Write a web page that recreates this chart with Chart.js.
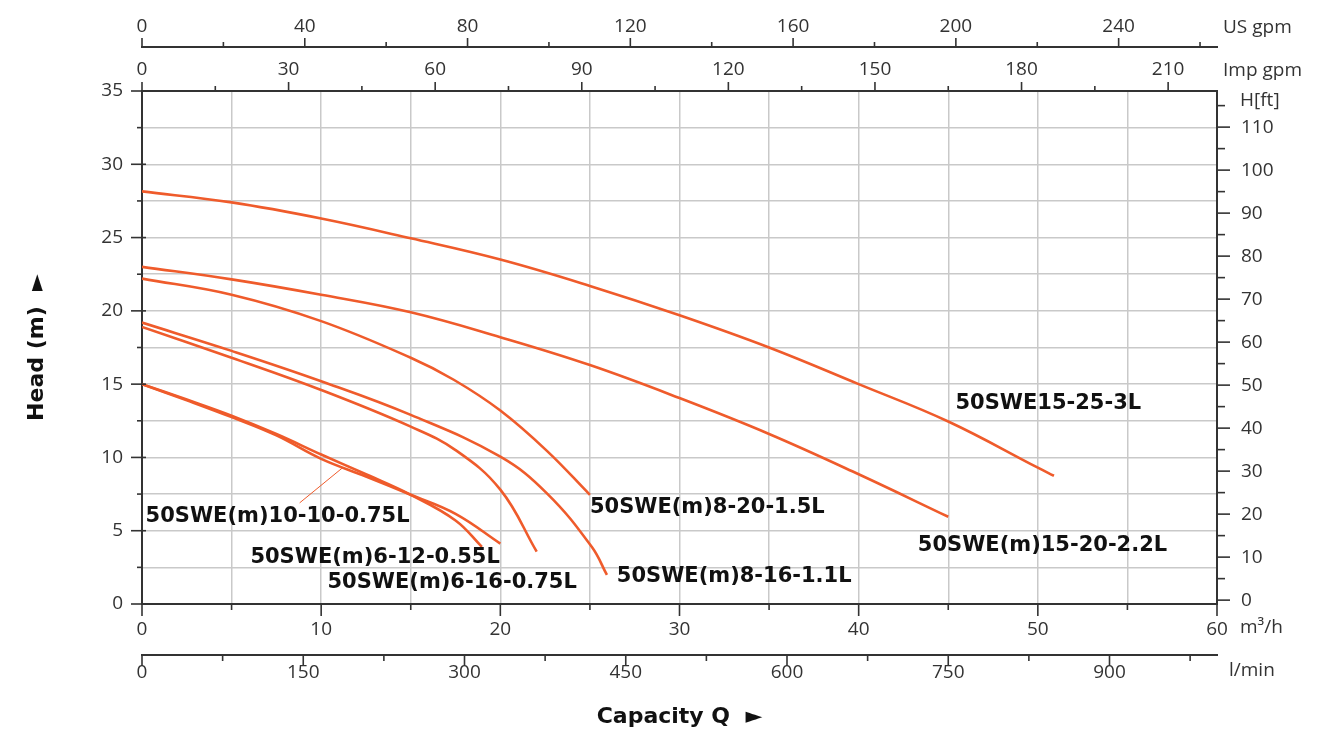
<!DOCTYPE html>
<html>
<head>
<meta charset="utf-8">
<script src="https://cdn.jsdelivr.net/npm/chart.js@4/dist/chart.umd.min.js"></script>
<style>
  html, body { margin: 0; padding: 0; background: #fff; }
  canvas { display: block; }
</style>
</head>
<body>
<canvas id="curves" width="1319" height="730"></canvas>
<script>
// Pump curves: capacity Q in m3/h, head H in m
const names = [
  "50SWE15-25-3L",
  "50SWE(m)15-20-2.2L",
  "50SWE(m)8-20-1.5L",
  "50SWE(m)8-16-1.1L",
  "50SWE(m)6-16-0.75L",
  "50SWE(m)6-12-0.55L",
  "50SWE(m)10-10-0.75L"
];

const q_15_25 = [0, 5, 10, 15, 20, 25, 30, 35, 40, 45, 50, 50.9];
const h_15_25 = [28.15, 27.4, 26.3, 24.95, 23.5, 21.7, 19.7, 17.5, 15.0, 12.45, 9.3, 8.75];

const q_15_20 = [0, 5, 10, 15, 20, 25, 30, 35, 40, 45];
const h_15_20 = [23.0, 22.15, 21.1, 19.9, 18.2, 16.3, 14.05, 11.6, 8.85, 5.95];

const q_8_20 = [0, 5, 10, 15, 17.4, 20, 22.6, 25];
const h_8_20 = [22.2, 21.1, 19.3, 16.8, 15.3, 13.2, 10.45, 7.45];

const q_8_16 = [0, 5, 10, 15, 20, 22.6, 25.1, 25.95];
const h_8_16 = [19.2, 17.27, 15.2, 12.9, 10.05, 7.55, 3.9, 1.98];

const q_6_16 = [0, 5, 10, 15, 17.5, 20, 22.03];
const h_6_16 = [18.9, 16.8, 14.6, 12.1, 10.5, 7.8, 3.57];

const q_6_12 = [0, 2.5, 5, 7.5, 10, 12.5, 15, 17.5, 20];
const h_6_12 = [15, 13.9, 12.75, 11.5, 9.9, 8.7, 7.45, 6.15, 4.12];

const q_10_10 = [0, 2.5, 5, 7.5, 10, 12.5, 15, 17.5, 18.97];
const h_10_10 = [15, 13.95, 12.85, 11.6, 10.2, 8.85, 7.45, 5.7, 3.9];

const curveQ = [q_15_25, q_15_20, q_8_20, q_8_16, q_6_16, q_6_12, q_10_10];
const curveH = [h_15_25, h_15_20, h_8_20, h_8_16, h_6_16, h_6_12, h_10_10];

// label anchors (m3/h, m) for the curve names
const labelAt = [
  [45.4, 13.65], [43.3, 4.0], [25.0, 6.55], [26.5, 1.85],
  [10.35, 1.45], [6.05, 3.2], [0.2, 6.0]
];

const ORANGE = "#ef5b2b";
const INK = "#333333";
const GRID = "#c9c9c9";
const TICK_FONT = { family: "'Open Sans', sans-serif", size: 19 };

const datasets = names.map((n, i) => ({
  label: n,
  data: curveQ[i].map((q, j) => ({ x: q, y: curveH[i][j] })),
  showLine: true,
  borderColor: ORANGE,
  borderWidth: 2.6,
  pointRadius: 0,
  tension: 0.4,
  fill: false
}));

function every(step) {
  return v => {
    const k = v / step;
    return Math.abs(k - Math.round(k)) < 1e-6 ? String(Math.round(v)) : "";
  };
}
function onStep(v, step) {
  const k = v / step;
  return Math.abs(k - Math.round(k)) < 1e-6;
}

function axis(pos, min, max, step, labelStep, size, pad, extra) {
  return Object.assign({
    type: "linear",
    position: pos,
    min: min,
    max: max,
    ticks: {
      stepSize: step, autoSkip: false, maxRotation: 0, includeBounds: false,
      padding: pad, color: INK, font: TICK_FONT, callback: every(labelStep)
    },
    grid: { drawOnChartArea: false, drawTicks: false },
    border: { display: true, color: INK, width: 2 },
    afterFit: s => {
      if (pos === "left" || pos === "right") s.width = size; else s.height = size;
    }
  }, extra || {});
}

// tick marks: [scale id, step, major step, minor length, major length, overlap into plot]
const tickSpec = [
  ["x", 5, 10, 6, 12, 0],
  ["xl", 75, 150, 6, 11, 0],
  ["usg", 20, 40, 5, 9, 0],
  ["impg", 15, 30, 5, 9, 0],
  ["y", 2.5, 5, 5, 11, 4],
  ["ft", 5, 10, 8, 13, 0]
];

const extras = {
  id: "extras",
  afterDraw(chart) {
    const ctx = chart.ctx;
    const a = chart.chartArea;
    ctx.save();
    ctx.strokeStyle = INK;
    ctx.lineWidth = 1.6;
    tickSpec.forEach(([id, step, major, minLen, majLen, back]) => {
      const s = chart.scales[id];
      s.ticks.forEach(t => {
        if (!onStep(t.value, step)) return;
        const len = onStep(t.value, major) ? majLen : minLen;
        const b = onStep(t.value, major) ? back : 0;
        const p = s.getPixelForValue(t.value);
        ctx.beginPath();
        if (s.position === "bottom") { ctx.moveTo(p, s.top - b); ctx.lineTo(p, s.top + len); }
        else if (s.position === "top") { ctx.moveTo(p, s.bottom + b); ctx.lineTo(p, s.bottom - len); }
        else if (s.position === "left") { ctx.moveTo(s.right + b, p); ctx.lineTo(s.right - len, p); }
        else { ctx.moveTo(s.left - b, p); ctx.lineTo(s.left + len, p); }
        ctx.stroke();
      });
    });

    // unit labels
    ctx.fillStyle = INK;
    ctx.font = "19px 'Open Sans', sans-serif";
    ctx.textAlign = "left";
    ctx.textBaseline = "middle";
    ctx.fillText("US gpm", a.right + 6, chart.scales.usg.bottom - 19);
    ctx.fillText("Imp gpm", a.right + 6, chart.scales.impg.bottom - 20);
    ctx.fillText("H[ft]", a.right + 23, a.top + 10);
    ctx.fillText("m³/h", a.right + 23, chart.scales.x.top + 24);
    ctx.fillText("l/min", a.right + 12, chart.scales.xl.top + 16);

    // curve names
    const sx = chart.scales.x, sy = chart.scales.y;
    ctx.fillStyle = "#111";
    ctx.font = "bold 21px 'DejaVu Sans', sans-serif";
    names.forEach((n, i) => {
      ctx.fillText(n, sx.getPixelForValue(labelAt[i][0]), sy.getPixelForValue(labelAt[i][1]));
    });

    // leader for 10-10-0.75L
    ctx.strokeStyle = ORANGE;
    ctx.lineWidth = 1;
    ctx.beginPath();
    ctx.moveTo(sx.getPixelForValue(8.8), sy.getPixelForValue(6.9));
    ctx.lineTo(sx.getPixelForValue(11.2), sy.getPixelForValue(9.3));
    ctx.stroke();
    ctx.restore();
  }
};

new Chart(document.getElementById("curves"), {
  type: "scatter",
  data: { datasets: datasets },
  plugins: [extras],
  options: {
    responsive: false,
    animation: false,
    layout: { padding: 0 },
    plugins: { legend: { display: false }, tooltip: { enabled: false } },
    scales: {
      x: axis("bottom", 0, 60, 5, 10, 51, 14, {
        weight: 0,
        grid: { color: GRID, lineWidth: 1.5, drawTicks: false }
      }),
      xl: axis("bottom", 0, 1000, 75, 150, 75, 6, {
        weight: 1,
        title: {
          display: true, text: "Capacity Q  ►", color: "#111",
          font: { family: "'DejaVu Sans', sans-serif", size: 22, weight: "bold" },
          padding: { top: 0, bottom: 0 }
        }
      }),
      impg: axis("top", 0, 220, 15, 30, 44, 10, { weight: 0 }),
      usg: axis("top", 0, 264.17, 20, 40, 47, 9, { weight: 1 }),
      y: axis("left", 0, 35, 2.5, 5, 142, 19, {
        grid: { color: GRID, lineWidth: 1.5, drawTicks: false },
        title: {
          display: true, text: "Head (m)  ►", color: "#111",
          font: { family: "'DejaVu Sans', sans-serif", size: 22, weight: "bold" },
          padding: { top: 24, bottom: 0 }
        }
      }),
      ft: axis("right", -0.9, 118.4, 5, 10, 102, 24)
    }
  }
});
</script>
</body>
</html>
